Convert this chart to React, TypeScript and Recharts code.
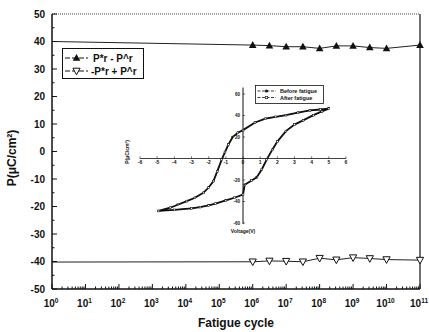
import { LineChart, Line, XAxis, YAxis, Legend, ReferenceLine, ReferenceDot, Label } from "recharts";

// fatigue test: remanent polarization vs. switching cycles
const cycles = [1, 1e6, 3.16e6, 1e7, 3.16e7, 1e8, 3.16e8, 1e9, 3.16e9, 1e10, 1e11];
const prDiff = [40.0, 38.7, 38.5, 38.1, 38.1, 37.5, 38.4, 38.4, 37.8, 37.5, 38.7];
const prSum = [-40.2, -40.1, -39.8, -39.9, -40.1, -38.8, -39.4, -38.6, -38.9, -39.3, -39.5];

const decadeTicks = [1, 10, 1e2, 1e3, 1e4, 1e5, 1e6, 1e7, 1e8, 1e9, 1e10, 1e11];
const decadeLabels = ["0", "1", "2", "3", "4", "5", "6", "7", "8", "9", "10", "11"];
const minorSteps = [2, 3, 4, 5, 6, 7, 8, 9];
const cycleTicks = [
  ...decadeTicks,
  ...decadeTicks.slice(0, -1).flatMap((d) => minorSteps.map((m) => m * d)),
].sort((a, b) => a - b);
const pTicks = [-50, -45, -40, -35, -30, -25, -20, -15, -10, -5, 0, 5, 10, 15, 20, 25, 30, 35, 40, 45, 50];

// inset hysteresis loop (upper branch 5V -> -5V, then lower branch back to 5V)
const loopVoltage = [
  5.0, 4.5, 3.9, 3.2, 2.5, 1.9, 1.3, 0.7, 0, -0.3, -0.6, -0.85, -1.05, -1.24, -1.5, -1.72, -2.0, -2.31, -2.8,
  -3.27, -3.8, -4.24, -4.92, -4.0, -3.0, -2.5, -2.0, -1.6, -1.0, -0.5, 0, 0.1, 0.5, 0.8, 1.1, 1.38, 1.7, 2.0,
  2.5, 3.0, 3.5, 4.1, 4.6, 5.0,
];
const loopBefore = [
  46.4, 45.6, 44.8, 42.6, 40.3, 38.7, 37.0, 33.5, 26.4, 24.0, 20.0, 13.0, 6.0, -1.0, -12.0, -21.0, -27.0, -32.0,
  -36.5, -39.6, -43.0, -45.8, -48.8, -47.8, -46.3, -45.2, -43.6, -42.0, -39.0, -36.5, -33.5, -24.5, -20.5, -17.5,
  -10.0, -1.0, 8.0, 15.7, 25.5, 31.5, 35.5, 40.3, 43.8, 46.4,
];
// after fatigue the loop lies on top of the original one
const loopAfter = [
  46.4, 45.6, 44.8, 42.6, 40.3, 38.7, 37.0, 33.5, 26.4, 24.0, 20.0, 13.0, 6.0, -1.0, -12.0, -21.0, -27.0, -32.0,
  -36.5, -39.6, -43.0, -45.8, -48.8, -47.8, -46.3, -45.2, -43.6, -42.0, -39.0, -36.5, -33.5, -24.5, -20.5, -17.5,
  -10.0, -1.0, 8.0, 15.7, 25.5, 31.5, 35.5, 40.3, 43.8, 46.4,
];
const voltageTicks = [-6, -5, -4, -3, -2, -1, 0, 1, 2, 3, 4, 5, 6];
const insetPTicks = [-60, -40, -20, 0, 20, 40, 60];

const fatigueData = cycles.map((c, i) => ({ cycle: c, diff: prDiff[i], sum: prSum[i] }));
const loopData = loopVoltage.map((v, i) => ({ v, before: loopBefore[i], after: loopAfter[i] }));

const FONT = '"Liberation Sans", Arial, Helvetica, sans-serif';
const INK = "#111";
const PLOT = { left: 52, top: 14, right: 420, bottom: 289 };

const CycleTick = (props: any) => {
  const { x, payload } = props;
  const i = decadeTicks.indexOf(payload.value);
  const y = PLOT.bottom;
  return (
    <g>
      <line x1={x} x2={x} y1={y} y2={y - (i >= 0 ? 5 : 2.5)} stroke={INK} strokeWidth={1} />
      {i >= 0 && (
        <text x={x - 1} y={y + 18} textAnchor="middle" fontFamily={FONT} fontWeight="bold" fontSize={10} fill={INK}>
          10
          <tspan dy={-4} fontSize={6.5}>
            {decadeLabels[i]}
          </tspan>
        </text>
      )}
    </g>
  );
};

const PTick = (props: any) => {
  const { y, payload } = props;
  const v = payload.value;
  const major = v % 10 === 0;
  const x = PLOT.left;
  return (
    <g>
      <line x1={x} x2={x + (major ? 5 : 2.5)} y1={y} y2={y} stroke={INK} strokeWidth={1} />
      {major && (
        <text x={x - 7} y={y} dy="0.36em" textAnchor="end" fontFamily={FONT} fontWeight="bold" fontSize={10} fill={INK}>
          {v}
        </text>
      )}
    </g>
  );
};

const UpTri = (props: any) => {
  const { cx, cy, index } = props;
  if (index === 0 || cx == null) return <g key={index} />;
  return <polygon key={index} points={`${cx},${cy - 4} ${cx - 3.8},${cy + 2.8} ${cx + 3.8},${cy + 2.8}`} fill={INK} />;
};

const DownTri = (props: any) => {
  const { cx, cy, index } = props;
  if (index === 0 || cx == null) return <g key={index} />;
  return (
    <polygon
      key={index}
      points={`${cx - 3.6},${cy - 2.8} ${cx + 3.6},${cy - 2.8} ${cx},${cy + 3.8}`}
      fill="#fff"
      stroke={INK}
      strokeWidth={1}
    />
  );
};

const SmallSquare = (props: any) => {
  const { cx, cy, index } = props;
  if (cx == null) return <g key={index} />;
  return <rect key={index} x={cx - 0.9} y={cy - 0.9} width={1.8} height={1.8} fill="#fff" stroke={INK} strokeWidth={0.5} />;
};

const MainLegend = () => (
  <svg width={82} height={31} style={{ display: "block" }}>
    <rect x={0.5} y={0.5} width={81} height={30} fill="#fff" stroke={INK} strokeWidth={1} />
    <line x1={3} x2={26} y1={10} y2={10} stroke={INK} strokeWidth={1} strokeDasharray="5 2" />
    <polygon points="14.5,6 10.7,12.8 18.3,12.8" fill={INK} />
    <text x={31} y={13.5} fontFamily={FONT} fontWeight="bold" fontSize={10} fill={INK}>
      {"P*r - P^r"}
    </text>
    <line x1={3} x2={26} y1={23} y2={23} stroke={INK} strokeWidth={1} strokeDasharray="5 2" />
    <polygon points="10.9,20.2 18.1,20.2 14.5,26.8" fill="#fff" stroke={INK} strokeWidth={1} />
    <text x={29} y={26.5} fontFamily={FONT} fontWeight="bold" fontSize={10} fill={INK}>
      {"-P*r + P^r"}
    </text>
  </svg>
);

const InsetLegend = () => (
  <svg width={69} height={19} style={{ display: "block" }}>
    <rect x={0.5} y={0.5} width={68} height={18} fill="#fff" stroke={INK} strokeWidth={0.8} />
    <line x1={2.5} x2={21} y1={6} y2={6} stroke={INK} strokeWidth={0.8} strokeDasharray="3 1.5" />
    <circle cx={11.5} cy={6} r={1.5} fill={INK} />
    <text x={25} y={8} fontFamily={FONT} fontWeight="bold" fontSize={5.5} fill={INK}>
      Before fatigue
    </text>
    <line x1={2.5} x2={21} y1={12.5} y2={12.5} stroke={INK} strokeWidth={0.8} strokeDasharray="3 1.5" />
    <rect x={10.3} y={11.3} width={2.4} height={2.4} fill="#fff" stroke={INK} strokeWidth={0.6} />
    <text x={25} y={14.5} fontFamily={FONT} fontWeight="bold" fontSize={5.5} fill={INK}>
      After fatigue
    </text>
  </svg>
);

const INSET = { left: 120, top: 84, width: 235, height: 154 };

const Inset = () => (
  <LineChart
    width={INSET.width}
    height={INSET.height}
    data={loopData}
    margin={{ left: 20, right: 9, top: 10, bottom: 15 }}
  >
    <XAxis dataKey="v" type="number" domain={[-6, 6]} hide />
    <YAxis type="number" domain={[-60, 60]} hide />
    <ReferenceLine y={0} stroke={INK} strokeWidth={0.8} />
    <ReferenceLine
      segment={[
        { x: 0, y: -61 },
        { x: 0, y: 66 },
      ]}
      ifOverflow="visible"
      stroke={INK}
      strokeWidth={1}
    />
    {voltageTicks.map((t) => (
      <ReferenceLine
        key={`vt${t}`}
        segment={[
          { x: t, y: 0 },
          { x: t, y: 2 },
        ]}
        stroke={INK}
        strokeWidth={0.6}
      />
    ))}
    {voltageTicks.map((t) => (
      <ReferenceDot
        key={`vl${t}`}
        x={t}
        y={0}
        r={0}
        stroke="none"
        label={{ value: String(t), position: "bottom", offset: 2, fontSize: 5, fontWeight: "bold", fill: INK, fontFamily: FONT }}
      />
    ))}
    {insetPTicks.map((t) => (
      <ReferenceLine
        key={`pt${t}`}
        segment={[
          { x: 0, y: t },
          { x: 0.12, y: t },
        ]}
        stroke={INK}
        strokeWidth={0.6}
      />
    ))}
    {insetPTicks
      .filter((t) => t !== 0)
      .map((t) => (
        <ReferenceDot
          key={`pl${t}`}
          x={0}
          y={t}
          r={0}
          stroke="none"
          label={{ value: String(t), position: "left", offset: 3, fontSize: 4.5, fontWeight: "bold", fill: INK, fontFamily: FONT }}
        />
      ))}
    <Line
      dataKey="before"
      type="linear"
      stroke={INK}
      strokeWidth={1.8}
      dot={{ r: 1.1, fill: INK, stroke: INK, strokeWidth: 0 }}
      activeDot={false}
      isAnimationActive={false}
      name="Before fatigue"
    />
    <Line
      dataKey="after"
      type="linear"
      stroke={INK}
      strokeWidth={1}
      strokeDasharray="2 1"
      dot={SmallSquare}
      activeDot={false}
      isAnimationActive={false}
      name="After fatigue"
    />
    <Legend
      layout="vertical"
      align="center"
      verticalAlign="middle"
      content={InsetLegend}
      wrapperStyle={{ left: 135, top: 1, width: 69, height: 19 }}
    />
    <text
      transform="translate(8.5,68) rotate(-90)"
      textAnchor="middle"
      fontFamily={FONT}
      fontWeight="bold"
      fontSize={5}
      fill={INK}
    >
      P(μC/cm²)
    </text>
    <text x={123} y={149} textAnchor="middle" fontFamily={FONT} fontWeight="bold" fontSize={5} fill={INK}>
      Voltage(V)
    </text>
  </LineChart>
);

const App = () => {
  return (
    <div style={{ position: "relative", width: 429, height: 332, background: "#fff" }}>
      <style>{"body{margin:0}"}</style>
      <LineChart
        width={429}
        height={332}
        data={fatigueData}
        margin={{ left: 0, top: PLOT.top, right: 429 - PLOT.right, bottom: 3 }}
      >
        <XAxis
          dataKey="cycle"
          type="number"
          scale="log"
          domain={[1, 1e11]}
          ticks={cycleTicks}
          interval={0}
          tickLine={false}
          tick={CycleTick}
          height={40}
          stroke={INK}
          strokeWidth={1.5}
        >
          <Label
            content={() => (
              <text
                x={(PLOT.left + PLOT.right) / 2}
                y={327}
                textAnchor="middle"
                fontFamily={FONT}
                fontWeight="bold"
                fontSize={12}
                fill={INK}
              >
                Fatigue cycle
              </text>
            )}
          />
        </XAxis>
        <YAxis
          type="number"
          domain={[-50, 50]}
          ticks={pTicks}
          interval={0}
          tickLine={false}
          tick={PTick}
          width={PLOT.left}
          stroke={INK}
          strokeWidth={1.5}
        >
          <Label
            content={() => (
              <text
                transform="translate(16,158) rotate(-90)"
                textAnchor="middle"
                fontFamily={FONT}
                fontWeight="bold"
                fontSize={12}
                fill={INK}
              >
                P(μC/cm²)
              </text>
            )}
          />
        </YAxis>
        <ReferenceLine y={50} stroke="#444" strokeWidth={1} strokeDasharray="1 1" />
        <ReferenceLine x={1e11} stroke={INK} strokeWidth={1.2} />
        <Line
          dataKey="diff"
          type="linear"
          stroke="#222"
          strokeWidth={1}
          dot={UpTri}
          activeDot={false}
          isAnimationActive={false}
          name="P*r - P^r"
        />
        <Line
          dataKey="sum"
          type="linear"
          stroke="#222"
          strokeWidth={1}
          dot={DownTri}
          activeDot={false}
          isAnimationActive={false}
          name="-P*r + P^r"
        />
        <Legend
          layout="vertical"
          align="center"
          verticalAlign="middle"
          content={MainLegend}
          wrapperStyle={{ left: 62, top: 48, width: 82, height: 31 }}
        />
      </LineChart>
      <div style={{ position: "absolute", left: INSET.left, top: INSET.top, pointerEvents: "none" }}>
        <Inset />
      </div>
    </div>
  );
};

export default App;
